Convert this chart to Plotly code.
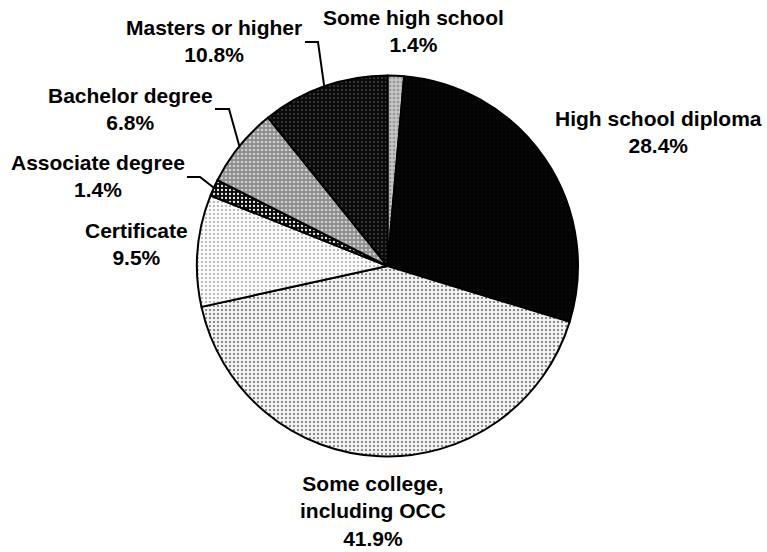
import math
import plotly.graph_objects as go

# Educational attainment shares (percent), clockwise from 12 o'clock
categories = [
    "Some high school",
    "High school diploma",
    "Some college,<br>including OCC",
    "Certificate",
    "Associate degree",
    "Bachelor degree",
    "Masters or higher",
]
shares = [1.4, 28.4, 41.9, 9.5, 1.4, 6.8, 10.8]

# Slice fills: base colour, stipple colour, stipple density
base_colors = ["#c4c4c4", "#030303", "#f2f2f2", "#fafafa", "#0a0a0a", "#8c8c8c", "#0a0a0a"]
dot_colors = ["#9a9a9a", "#2a2a2a", "#707070", "#a0a0a0", "#f0f0f0", "#d0d0d0", "#8a8a8a"]
dot_solidity = [0.35, 0.04, 0.22, 0.18, 0.25, 0.35, 0.08]

W, H = 767, 552
CX, CY, R = 387.5, 266.0, 190.5  # pie centre and radius in pixels


def px(x):
    return x / W


def py(y):
    return 1 - y / H


fig = go.Figure(
    go.Pie(
        labels=categories,
        values=shares,
        sort=False,
        direction="clockwise",
        rotation=0,
        textinfo="none",
        hoverinfo="label+percent",
        showlegend=False,
        domain=dict(x=[px(CX - R), px(CX + R)], y=[py(CY + R), py(CY - R)]),
        marker=dict(
            colors=base_colors,
            line=dict(color="#000000", width=2),
            pattern=dict(
                shape=["."] * len(shares),
                fgcolor=dot_colors,
                bgcolor=base_colors,
                size=4,
                solidity=dot_solidity,
            ),
        ),
    )
)

# Label block centres (pixels) and leader-line elbows for the narrow slices
label_pos = {
    "Some high school": (414, 31.5),
    "High school diploma": (658, 131.5),
    "Some college,<br>including OCC": (373, 510.5),
    "Certificate": (136.5, 243.5),
    "Associate degree": (97.5, 175.5),
    "Bachelor degree": (130, 109),
    "Masters or higher": (213.5, 41.5),
}
leaders = {
    "Masters or higher": [(305, 42), (318, 42)],
    "Bachelor degree": [(215, 109), (229, 109)],
    "Associate degree": [(187, 177), (200, 177)],
}

start = 0.0
total = sum(shares)
for name, val in zip(categories, shares):
    mid = start + val / total * 360 / 2
    start += val / total * 360
    lx, ly = label_pos[name]
    fig.add_annotation(
        x=px(lx), y=py(ly), xref="paper", yref="paper",
        text=f"<b>{name}<br>{val:.1f}%</b>", showarrow=False,
        xanchor="center", yanchor="middle", align="center",
        font=dict(family="Liberation Sans, Arial, sans-serif", size=21, color="#000000"),
    )
    if name in leaders:
        a = math.radians(mid)
        rim = (CX + R * math.sin(a), CY - R * math.cos(a))
        pts = leaders[name] + [rim]
        path = "M " + " L ".join(f"{px(x)},{py(y)}" for x, y in pts)
        fig.add_shape(type="path", path=path, xref="paper", yref="paper",
                      line=dict(color="#000000", width=2))

fig.update_layout(
    width=W, height=H,
    margin=dict(l=0, r=0, t=0, b=0),
    paper_bgcolor="#ffffff",
    plot_bgcolor="#ffffff",
)

fig.write_html("out.html")
